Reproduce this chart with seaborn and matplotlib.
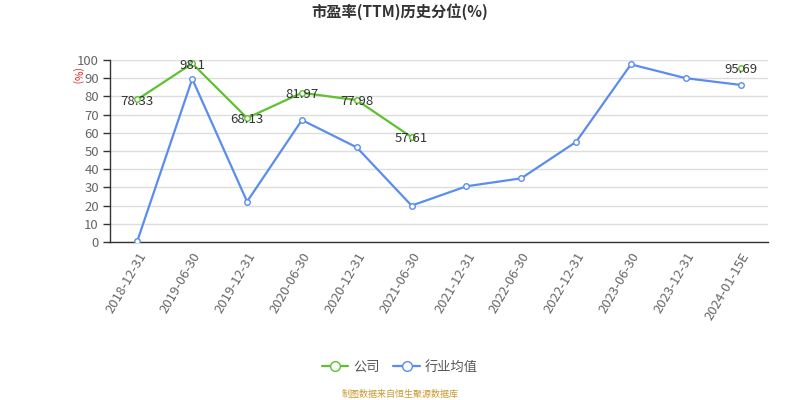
import numpy as np
import pandas as pd
import matplotlib
matplotlib.use("Agg")
import matplotlib.pyplot as plt
import seaborn as sns

# Report dates (x categories)
dates = ["2018-12-31", "2019-06-30", "2019-12-31", "2020-06-30", "2020-12-31",
         "2021-06-30", "2021-12-31", "2022-06-30", "2022-12-31", "2023-06-30",
         "2023-12-31", "2024-01-15E"]

# PE(TTM) historical percentile, company
company = [78.33, 98.1, 68.13, 81.97, 77.98, 57.61,
           np.nan, np.nan, np.nan, np.nan, np.nan, 95.69]

# PE(TTM) historical percentile, industry average
industry = [0.7, 89.6, 22.2, 67.0, 52.0, 20.0, 30.6, 35.0, 55.0, 97.6, 90.0, 86.3]

yticks = list(range(0, 101, 10))

sns.set_theme(style="white")
plt.rcParams["font.family"] = ["Noto Sans CJK SC", "DejaVu Sans"]

GREEN = "#5fc12f"
BLUE = "#5b8def"

fig = plt.figure(figsize=(8, 4), dpi=100)
ax = fig.add_axes([0.1375, 0.395, 0.8225, 0.455])

pos = np.arange(len(dates))
df = pd.DataFrame({"pos": pos, "公司": company, "行业均值": industry})

sns.lineplot(data=df, x="pos", y="行业均值", ax=ax, color=BLUE, lw=1.6,
             marker="o", markersize=4, markerfacecolor="white",
             markeredgecolor=BLUE, markeredgewidth=1.0, label="行业均值", zorder=3)
sns.lineplot(data=df.iloc[:6], x="pos", y="公司", ax=ax, color=GREEN, lw=1.6,
             marker="o", markersize=4, markerfacecolor="white",
             markeredgecolor=GREEN, markeredgewidth=1.0, label="公司", zorder=4)
# isolated estimate point
ax.plot(pos[11], company[11], marker="o", markersize=4, markerfacecolor="white",
        markeredgecolor=GREEN, markeredgewidth=1.0, zorder=4)

for x, v in zip(pos, company):
    if not np.isnan(v):
        ax.text(x, v - 1, f"{v:g}", ha="center", va="center", fontsize=9.5,
                color="#333333", zorder=5)

ax.set_xlim(-0.5, len(dates) - 0.5)
ax.set_ylim(0, 100)
ax.set_yticks(yticks)
ax.set_yticklabels([str(t) for t in yticks], fontsize=9.5, color="#666666")
ax.set_xticks(pos)
ax.set_xticklabels(dates, rotation=60, ha="right", rotation_mode="anchor",
                   fontsize=9.5, color="#666666")
ax.set_xticks(np.arange(-0.5, len(dates)), minor=True)
ax.tick_params(axis="x", which="major", length=0, pad=6)
ax.tick_params(axis="x", which="minor", length=5, color="#333333", width=1)
ax.tick_params(axis="y", which="major", length=5, color="#333333", width=1, pad=3, left=True)
ax.set_xlabel("")
ax.set_ylabel("")

ax.grid(axis="y", color="#dddddd", lw=1)
ax.set_axisbelow(True)
for s in ["top", "right"]:
    ax.spines[s].set_visible(False)
for s in ["left", "bottom"]:
    ax.spines[s].set_color("#333333")
    ax.spines[s].set_linewidth(1)

ax.get_legend().remove()

fig.text(0.5, 0.97, "市盈率(TTM)历史分位(%)", ha="center", va="center",
         fontsize=11, fontweight="bold", color="#333333")
fig.text(0.096, 0.81, "(%)", ha="center", va="center", rotation=-90,
         fontsize=7.5, color="#e02020")

handles = [
    plt.Line2D([], [], color=GREEN, lw=1.6, marker="o", markersize=7,
               markerfacecolor="white", markeredgecolor=GREEN),
    plt.Line2D([], [], color=BLUE, lw=1.6, marker="o", markersize=7,
               markerfacecolor="white", markeredgecolor=BLUE),
]
fig.legend(handles, ["公司", "行业均值"], loc="center", bbox_to_anchor=(0.5, 0.082),
           ncol=2, frameon=False, fontsize=9.5, handlelength=2.0,
           columnspacing=1.0, handletextpad=0.4, labelcolor="#555555")

fig.text(0.5, 0.015, "制图数据来自恒生聚源数据库", ha="center", va="center",
         fontsize=6.5, color="#c89a30")

fig.savefig("out.png", dpi=100)
